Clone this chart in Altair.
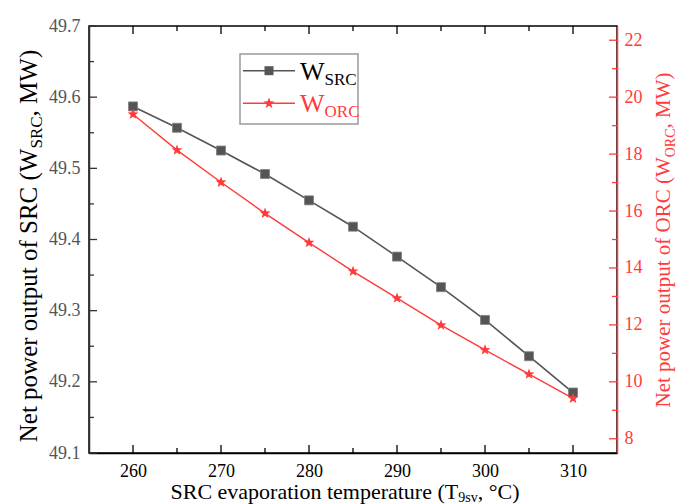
import math
import altair as alt
import pandas as pd

# ---------------- data ----------------
temps = [260, 265, 270, 275, 280, 285, 290, 295, 300, 305, 310]
w_src = [49.587, 49.557, 49.525, 49.492, 49.455, 49.418, 49.376, 49.333, 49.287, 49.236, 49.185]
w_orc = [19.40, 18.14, 17.01, 15.92, 14.89, 13.88, 12.94, 11.99, 11.12, 10.27, 9.42]

x_major = [260, 270, 280, 290, 300, 310]
x_minor = [265, 275, 285, 295, 305]
left_major = [49.1, 49.2, 49.3, 49.4, 49.5, 49.6, 49.7]
left_minor = [49.15, 49.25, 49.35, 49.45, 49.55, 49.65]
right_major = [8, 10, 12, 14, 16, 18, 20, 22]
right_minor = [9, 11, 13, 15, 17, 19, 21]

x_title = ["SRC evaporation temperature (T", "9sv", ", °C)"]
left_title = ["Net power output of SRC (W", "SRC", ", MW)"]
right_title = ["Net power output of ORC (W", "ORC", ", MW)"]
legend_main = ["W", "W"]
legend_sub = ["SRC", "ORC"]

# ---------------- style ----------------
W, H = 528, 427
FONT = "Liberation Serif"
GREY = "#555555"
RED = "#ff3b3b"
XDOM = [255, 315]
LDOM = [49.1, 49.7]
RDOM = [7.5, 22.5]

TW = {'N': 722, 'e': 444, 't': 278, ' ': 250, 'p': 500, 'o': 500, 'w': 722, 'r': 333,
      'u': 500, 'f': 333, 'S': 556, 'R': 667, 'C': 667, '(': 333, 'W': 944, ',': 250,
      'M': 889, ')': 333, 'O': 722, 'v': 500, 'a': 444, 'i': 278, 'n': 500, 'm': 778,
      'T': 611, '9': 500, 's': 389, '°': 400}


def tw(s, size):
    return sum(TW.get(c, 500) for c in s) / 1000.0 * size


# star symbol path
pts = []
for k in range(10):
    r = 1.0 if k % 2 == 0 else 0.42
    a = math.radians(-90 + 36 * k)
    pts.append(f"{r*math.cos(a):.3f},{r*math.sin(a):.3f}")
STAR = "M" + " L".join(pts) + " Z"

df = pd.DataFrame({"T": temps, "src": w_src, "orc": w_orc})
xs = alt.Scale(domain=XDOM, nice=False, zero=False)
XAX = alt.Axis(values=x_major, format="d", title=None, ticks=False,
               labelFontSize=18, labelFont=FONT, labelColor="black",
               domainColor="black", domainWidth=1.5, labelPadding=9, grid=False)

src_line = alt.Chart(df).mark_line(
    color=GREY, strokeWidth=1.6,
    point=alt.OverlayMarkDef(shape="square", size=81, filled=True, color=GREY,
                             stroke="#808080", strokeWidth=0.8)
).encode(
    x=alt.X("T:Q", scale=xs, axis=XAX),
    y=alt.Y("src:Q", scale=alt.Scale(domain=LDOM, nice=False, zero=False),
            axis=alt.Axis(values=left_major, format=".1f", title=None, ticks=False,
                          labelFontSize=18, labelFont=FONT, labelColor="#555555",
                          domainColor="#333333", domainWidth=1.5, labelPadding=9,
                          grid=False, orient="left")),
)

orc_line = alt.Chart(df).mark_line(
    color=RED, strokeWidth=1.4,
    point=alt.OverlayMarkDef(shape=STAR, size=130, filled=True, color=RED)
).encode(
    x=alt.X("T:Q", scale=xs, axis=XAX),
    y=alt.Y("orc:Q", scale=alt.Scale(domain=RDOM, nice=False, zero=False),
            axis=alt.Axis(values=right_major, format="d", title=None, ticks=False,
                          labelFontSize=18, labelFont=FONT, labelColor=RED,
                          domainColor=RED, domainWidth=1.5, labelPadding=7,
                          grid=False, orient="right")),
)


def xticks(vals, length, top=False):
    d = pd.DataFrame({"T": vals})
    y1, y2 = (0, length) if top else (H, H - length)
    return alt.Chart(d).mark_rule(color="black", strokeWidth=1.3).encode(
        x=alt.X("T:Q", scale=xs, axis=XAX),
        y=alt.value(y1), y2=alt.value(y2))


def yticks(vals, length, dom, right=False, color="#333333"):
    d = pd.DataFrame({"v": vals})
    x1, x2 = (W, W - length) if right else (0, length)
    return alt.Chart(d).mark_rule(color=color, strokeWidth=1.3).encode(
        y=alt.Y("v:Q", scale=alt.Scale(domain=dom, nice=False, zero=False), axis=None),
        x=alt.value(x1), x2=alt.value(x2))


def text(s, x, y, size, color="black", angle=0):
    kw = dict(align="left", baseline="alphabetic", font=FONT, fontSize=size, color=color)
    if angle:
        kw["angle"] = angle
    return alt.Chart(pd.DataFrame({"t": [s]})).mark_text(**kw).encode(
        text="t:N", x=alt.value(x), y=alt.value(y))


layers = [src_line, orc_line,
          xticks(x_major, 8), xticks(x_minor, 5),
          xticks(x_major, 8, top=True), xticks(x_minor, 5, top=True),
          yticks(left_major, 8, LDOM), yticks(left_minor, 5, LDOM),
          yticks(right_major, 8, RDOM, right=True, color=RED),
          yticks(right_minor, 5, RDOM, right=True, color=RED)]

# x title (with subscript)
s_main, s_sub = 22, 14
L = tw(x_title[0], s_main) + tw(x_title[1], s_sub) + tw(x_title[2], s_main)
x0 = 256 - L / 2
yb = 473
layers.append(text(x_title[0], x0, yb, s_main))
layers.append(text(x_title[1], x0 + tw(x_title[0], s_main), yb + 3, s_sub))
layers.append(text(x_title[2], x0 + tw(x_title[0], s_main) + tw(x_title[1], s_sub), yb, s_main))


def vtitle(parts, size, subsize, bx, cy, color):
    out = []
    Lv = tw(parts[0], size) + tw(parts[1], subsize) + tw(parts[2], size)
    y0 = cy + Lv / 2
    out.append(text(parts[0], bx, y0, size, color, 270))
    out.append(text(parts[1], bx + 5, y0 - tw(parts[0], size), subsize, color, 270))
    out.append(text(parts[2], bx, y0 - tw(parts[0], size) - tw(parts[1], subsize), size, color, 270))
    return out


layers += vtitle(left_title, 25, 17, -52, 220, "black")
layers += vtitle(right_title, 21, 14, 581, 214, RED)

# legend
one = pd.DataFrame({"a": [0]})
layers.append(alt.Chart(one).mark_rect(fill="white", stroke="#9a9a9a", strokeWidth=1.5).encode(
    x=alt.value(151), x2=alt.value(269), y=alt.value(28), y2=alt.value(98)))
rows = [(44.7, GREY, "square", 81, "black"), (77.3, RED, STAR, 130, RED)]
for i, (ly, col, shp, sz, tcol) in enumerate(rows):
    layers.append(alt.Chart(one).mark_rule(color=col, strokeWidth=1.6).encode(
        x=alt.value(154), x2=alt.value(206), y=alt.value(ly)))
    layers.append(alt.Chart(one).mark_point(shape=shp, size=sz, filled=True, color=col,
                                            opacity=1).encode(
        x=alt.value(180), y=alt.value(ly)))
    layers.append(text(legend_main[i], 211, ly + 9, 26, tcol))
    layers.append(text(legend_sub[i], 211 + tw("W", 26), ly + 14, 17, tcol))

chart = alt.layer(*layers).resolve_scale(y="independent").properties(
    width=W, height=H,
    autosize=alt.AutoSizeParams(type="none"),
    padding={"left": 81, "top": 18, "right": 60, "bottom": 52},
    background="white",
).configure(font=FONT).configure_axis(labelFont=FONT).configure_text(
    font=FONT).configure_view(stroke="black", strokeWidth=1.5)

chart.save("out.html", embed_options={"renderer": "svg", "actions": False})
